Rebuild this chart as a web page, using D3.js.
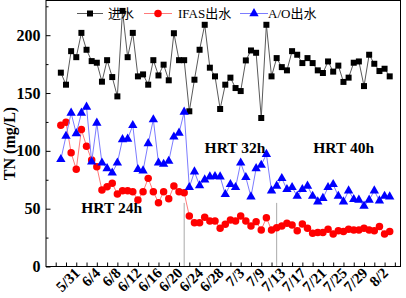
<!DOCTYPE html>
<html><head><meta charset="utf-8">
<script src="https://cdn.jsdelivr.net/npm/d3@7"></script>
<style>body{margin:0;background:#fff}</style></head>
<body><svg id="c" width="406" height="298"></svg>
<script>
const inflow=[167.6,157.2,186.2,181,202,187.4,177.6,176.2,159.8,178.4,
163.8,147.1,221,181,202,164.4,166.1,157.2,178.4,165.2,
174.5,161,201.7,178.4,178.4,134.2,161.5,187.4,209,171.9,
164.4,136.2,157.2,163.3,154.3,151.7,178.2,186.8,184.8,128.4,
209,164.4,180.2,172.4,169.6,186.2,183.1,175.9,180.2,175.9,
169.6,167.3,177.3,168.5,173.7,159.6,163.3,176.2,177.3,156,
183.1,175.3,169,171,164.4];
const ifas=[122.1,124.7,98.3,84,118.4,104,92,86.2,66.1,69,
71.9,62.7,65.5,65.5,64.7,57.5,64.7,76.2,64.7,55.2,
64.7,58.6,69.6,64.7,63.8,43.7,37.9,37.9,42.6,39.4,
39.4,33.1,36.5,40.3,39.4,43.7,39.4,35.1,38.8,31.6,
42.2,31.6,33.6,35.1,37.4,35.9,31,36.8,33.1,28.8,
29.3,29.3,32.2,28.2,31,30.2,32.2,31.6,31.6,33.1,
31.6,31,34.5,28.2,30.2];
const ao=[92.6,112.7,132.7,115,132.7,137.9,90.5,124.1,89.6,84.8,
81,89.6,109.8,110.3,122.1,84,82.8,106.4,127,89.6,
88.5,91.1,112.1,115.5,133.6,68.4,81.9,70,75,77.6,
78,77.6,62.4,71,68.4,89.6,77.1,60.3,84.8,87.7,
97.1,65.5,69.6,76.2,66.7,68.4,60.9,66.7,69.6,60.9,
56,59,68.4,71,60.9,56,65.5,58.1,57.5,52.3,
57.5,65.5,56.9,60.9,60.3];
const tickLabels=["5/31","6/4","6/8","6/12","6/16","6/20","6/24","6/28","7/3","7/9","7/13","7/17","7/21","7/25","7/29","8/2"];
const yTicks=[0,50,100,150,200];
const yMinor=[25,75,125,175,225];
const seriesNames=["进水","IFAS出水","A/O出水"];
const hrtLabels=["HRT 24h","HRT 32h","HRT 40h"];
const phaseBreaks=[24,42];
const breakTop=55;

const serif="'Times New Roman','Liberation Serif','Noto Sans CJK SC',serif";
const svg=d3.select("#c");
const L=46,R=400.5,T=0.5,B=266.5;
const x=d3.scaleLinear().domain([-2.89,66.1]).range([L,R]);
const y=d3.scaleLinear().domain([0,230]).range([B,T]);

// phase break lines
svg.selectAll("line.brk").data(phaseBreaks).join("line")
 .attr("x1",d=>x(d)).attr("x2",d=>x(d)).attr("y1",y(breakTop)).attr("y2",B)
 .attr("stroke","#aaa").attr("stroke-width",1);

// axes
const xt=d3.range(-1,66,2);
const labelAt=i=>{const k=(i-3)/4;return (k>=0&&Number.isInteger(k)&&k<tickLabels.length)?tickLabels[k]:"";};
const gx=svg.append("g").attr("transform",`translate(0,${B})`)
 .call(d3.axisBottom(x).tickValues(xt).tickSizeInner(-4).tickSizeOuter(0).tickFormat(labelAt));
gx.selectAll("text").attr("y",0).attr("dy",0).attr("text-anchor","end")
 .attr("transform","translate(4,7.5) rotate(-45)")
 .attr("font-family",serif).attr("font-weight","bold").attr("font-size",15).attr("fill","#000");
const gy=svg.append("g").attr("transform",`translate(${L},0)`)
 .call(d3.axisLeft(y).tickValues(yTicks).tickSizeInner(-4.5).tickSizeOuter(0).tickPadding(5.5));
gy.selectAll("text").attr("font-family",serif).attr("font-weight","bold").attr("font-size",16).attr("fill","#000");
svg.append("g").attr("transform",`translate(${L},0)`)
 .call(d3.axisLeft(y).tickValues(yMinor).tickSizeInner(-2.5).tickSizeOuter(0).tickFormat(""));
svg.selectAll(".domain").remove();
svg.append("rect").attr("x",L).attr("y",T).attr("width",R-L).attr("height",B-T)
 .attr("fill","none").attr("stroke","#000").attr("stroke-width",1);

svg.append("text").attr("transform",`translate(15,${(T+B)/2+10}) rotate(-90)`)
 .attr("text-anchor","middle").attr("font-family",serif).attr("font-weight","bold").attr("font-size",16)
 .text("TN (mg/L)");

// series
const line=d3.line().x((d,i)=>x(i)).y(d=>y(d));
const series=[
 {v:inflow,lc:"#5a5a5a",mc:"#000",shape:d3.symbolSquare,size:36},
 {v:ifas,lc:"#ff7a7a",mc:"#ff0000",shape:d3.symbolCircle,size:44},
 {v:ao,lc:"#7c7cff",mc:"#0000ff",shape:d3.symbolTriangle,size:38}
];
series.forEach(s=>{
 svg.append("path").attr("d",line(s.v)).attr("fill","none").attr("stroke",s.lc).attr("stroke-width",1);
 svg.append("g").selectAll("path").data(s.v).join("path")
  .attr("transform",(d,i)=>`translate(${x(i)},${y(d)})`)
  .attr("d",d3.symbol().type(s.shape).size(s.size)).attr("fill",s.mc);
});

// legend
const legX=[[77,103,108],[144,172,178],[240,268,268]];
series.forEach((s,k)=>{
 const g=svg.append("g");
 const [a,b,t]=legX[k];
 g.append("line").attr("x1",a).attr("x2",b).attr("y1",13.5).attr("y2",13.5).attr("stroke",s.lc).attr("stroke-width",1);
 g.append("path").attr("transform",`translate(${(a+b)/2},13.5)`).attr("d",d3.symbol().type(s.shape).size(s.size)).attr("fill",s.mc);
 g.append("text").attr("x",t).attr("y",18).attr("font-family",serif).attr("font-size",13).text(seriesNames[k]);
});

// HRT labels
const hrtPos=[[111.7,213],[235,152.7],[343.7,152.7]];
svg.selectAll("text.hrt").data(hrtLabels).join("text").attr("class","hrt")
 .attr("x",(d,i)=>hrtPos[i][0]).attr("y",(d,i)=>hrtPos[i][1])
 .attr("text-anchor","middle").attr("font-family",serif).attr("font-weight","bold").attr("font-size",15.5)
 .text(d=>d);
</script></body></html>
